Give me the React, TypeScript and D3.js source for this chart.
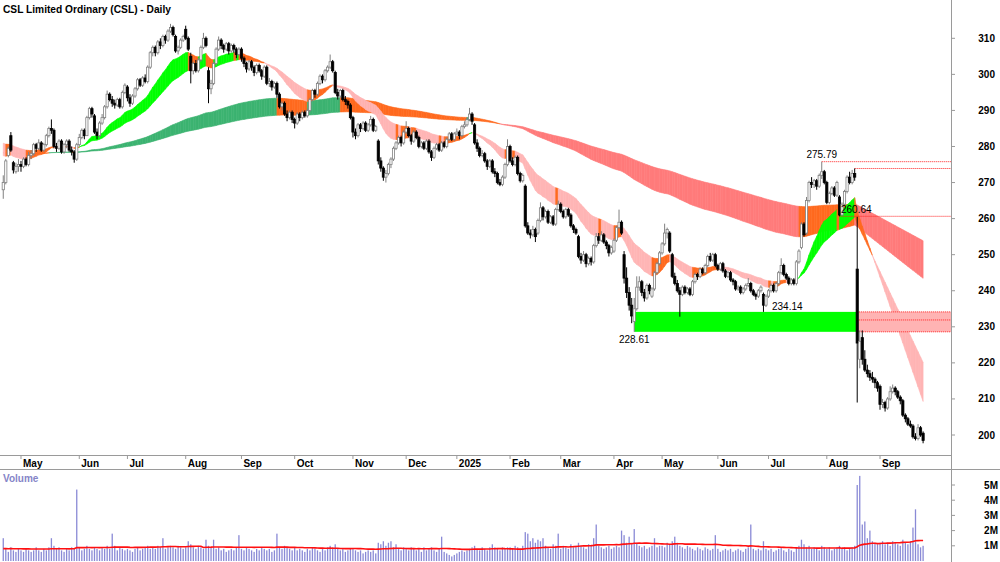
import React from 'react';
import * as d3 from 'd3';

const title = 'CSL Limited Ordinary (CSL) - Daily';
const firstDay = new Date(2024, 3, 19);
const lastDay = new Date(2025, 8, 24);
const holidays = ['2024-04-25', '2024-06-10', '2024-12-25', '2024-12-26', '2025-01-01', '2025-01-27', '2025-04-18', '2025-04-21', '2025-04-25', '2025-06-09'];

// Daily OHLC (one row per month)
const opens = [
  268, 270, 277.5, 283, 275.5, 273, 274.5,
  275, 274.5, 276.5, 275, 277.5, 278, 280.5, 279.5, 281, 279, 280.5, 283, 285, 284.5, 280, 279.5, 281.5, 278.5, 280.5, 281.5, 279, 278.5, 276.5,
  280.5, 282.5, 284.5, 283, 288, 290.5, 288.5, 284, 283, 286.5, 288, 291, 294.5, 293, 292, 291.5, 293, 291, 295,
  296.5, 293.5, 292, 294, 296, 298.5, 297, 299, 298, 302, 306, 307.5, 306, 309, 308, 310.5, 309.5, 312, 313, 310.5, 306.5, 307.5, 309.5,
  312.5, 310, 305, 301, 303, 301, 304, 307.5, 310, 301, 296, 297.5, 303, 307, 309.5, 308, 307, 308.5, 306.5, 308, 307, 305.5,
  307, 304.5, 303, 301.5, 303.5, 302, 300.5, 302.5, 301, 299.5, 302, 297.5, 298, 296.5, 297.5, 294.5, 291, 292, 289, 288, 289.5,
  287.5, 286.5, 289, 288, 289.5, 288.5, 290, 293, 295.5, 294.5, 297.5, 299.5, 298.5, 301, 302, 303.5, 300.5, 295, 294, 295.5, 293, 292.5, 291.5,
  288, 284, 283, 286, 285, 286.5, 284.5, 286, 287.5, 284.5, 281.5, 276, 274, 271.5, 272.5, 275, 276.5, 279.5, 281, 282.5, 281,
  284, 285, 283, 281.5, 284, 282.5, 280, 281, 279.5, 281.5, 278.5, 277, 279.5, 280.5, 279, 281, 280, 282, 283.5, 282,
  283.5, 284, 283, 285.5, 286, 287.5, 289, 286, 281, 279.5, 277.5, 278, 276, 274.5, 276, 273, 272.5, 270, 269.5, 271.5, 275,
  280, 276, 275, 277, 272.5, 270.5, 269, 258, 256, 255.5, 257, 256, 259.5, 263, 260.5, 262, 259, 260.5, 258.5, 262.5,
  264, 262, 260.5, 262.5, 261, 258, 257, 255, 249.5, 248.5, 250, 247.5, 249, 248, 252.5, 255, 254, 255.5, 253.5, 252.5, 250.5,
  251, 254, 257.5, 259, 250, 243.5, 239.5, 236, 231.5, 235, 241, 242.5, 239.5, 238, 241.5, 238.5, 240.5, 245, 247.5,
  250.5, 253, 256, 256, 250, 244, 242, 240, 239, 241, 239.5, 240.5, 239, 242.5, 244.5, 244, 246, 245, 247, 249.5, 248.5, 250,
  247, 246, 247.5, 245.5, 244, 245, 243, 242.5, 240.5, 241, 239.5, 240.5, 241.5, 242, 240, 239, 238.5, 240, 239, 236,
  238.5, 240, 241.5, 240, 242, 245, 247, 244.5, 243.5, 242, 243, 242, 248, 252, 258.5, 256, 265, 270, 269.5, 270.5, 269, 272, 273,
  270, 264.5, 267, 268.5, 266.5, 266, 261, 264, 267.5, 271.5, 270, 272.5, 246, 221, 227, 221, 218, 217, 216, 215.5, 214.5,
  213.5, 208.5, 209, 207.5, 210, 212, 213, 212, 210.5, 209.5, 205.5, 204.5, 203, 202.5, 199.5, 199, 202, 200.5,
];
const highs = [
  272, 276.5, 280, 284, 276, 275.5, 276.5,
  276, 277, 277, 278.5, 279, 281, 281, 282, 281.5, 281, 283.5, 285.5, 287.5, 285, 281, 282, 282, 281, 282, 282, 280, 279, 281,
  283.5, 285, 285, 288.5, 291, 291, 289, 285, 287, 289, 291.5, 295.5, 295, 294, 293, 293.5, 293.5, 295.5, 297.5,
  297, 294.5, 294.5, 296.5, 299, 299, 299.5, 300, 302.5, 306.5, 308, 308, 309.5, 310, 311, 311, 312.5, 314, 313.5, 311, 308, 310, 311,
  313.5, 310.5, 306, 303.5, 304, 304.5, 308, 311.5, 310.5, 302, 298.5, 303.5, 307.5, 310.5, 310, 308.5, 309, 309, 308.5, 308.5, 307.5, 307.5,
  307.5, 305, 303.5, 304, 304, 302.5, 303, 303, 301.5, 302.5, 302.5, 299, 298.5, 298, 298, 295, 292.5, 292.5, 290, 290, 290,
  288, 289.5, 289.5, 290, 290, 290.5, 293.5, 296, 296, 298, 300, 300, 301.5, 302.5, 305.5, 304, 301, 296, 296, 296, 294, 293, 292,
  288.5, 285, 286.5, 286.5, 287, 287, 286.5, 288.5, 288, 286, 282, 277, 274.5, 273.5, 275.5, 277, 280, 281.5, 283, 283, 284.5,
  287, 285.5, 283.5, 284.5, 284.5, 283, 281.5, 281.5, 282, 282, 279, 280, 281, 281, 281.5, 281.5, 282.5, 284, 284, 284,
  285, 284.5, 286, 287, 288, 290.7, 289.5, 286.5, 282, 280, 279, 278.5, 276.5, 276.5, 276.5, 274, 273, 271, 272, 275.5, 282,
  280.5, 277, 277.5, 277.5, 273, 272.5, 269.5, 259, 257, 258, 257.5, 260, 264.5, 263.5, 262.5, 262.5, 261, 261, 263, 265,
  264.5, 262.5, 263, 263, 261.5, 258.5, 257.5, 255.5, 250.5, 251, 250.5, 249.5, 249.5, 253, 256, 256, 256.5, 256, 254, 253, 252.5,
  254.5, 258, 262.5, 259.5, 251, 246.5, 241, 238, 238, 244, 244, 243, 240.5, 242, 242, 241, 245.5, 248, 251,
  253.5, 258.6, 257.5, 256.5, 250.5, 245, 243, 241, 241.5, 241.5, 241, 241, 243, 245, 245, 246.5, 246.5, 247.5, 250, 250.5, 250.5, 250.5,
  247.5, 248, 248, 246, 245.5, 245.5, 243.5, 243, 241.5, 241.5, 241, 242, 243.5, 242.5, 240.5, 239.5, 240.5, 241.5, 239.5, 239,
  240.5, 242, 242, 242.5, 245.5, 249, 247.5, 245, 244, 243.5, 243.5, 248.5, 251.5, 259, 259, 266, 270.5, 271.5, 271, 271, 272.5, 275.79, 273.5,
  270.5, 267.5, 269, 269, 270.5, 266.5, 264.5, 268, 272, 273, 273.5, 273.9, 260.5, 229, 229, 223.5, 219.5, 218, 217.5, 216, 215,
  214, 210, 209.5, 210.5, 213.5, 214, 213.5, 212.5, 211, 210, 206, 205, 204, 203, 200.5, 203, 202.5, 201,
];
const lows = [
  265.5, 269.5, 277, 278.5, 272.5, 272.5, 273,
  273, 274, 274.5, 274.5, 276.5, 277.5, 278.5, 279, 278.5, 278.5, 280, 282.5, 283.5, 279.5, 278.5, 279, 278, 278, 279.5, 278.5, 277.5, 275.5, 276,
  280, 282, 282, 283, 287.5, 288, 283.5, 282, 282.5, 286, 287.5, 290.5, 292.5, 291, 290.5, 291, 290.5, 290.5, 294.5,
  292.5, 291, 291.5, 293.5, 295.5, 296.5, 296.5, 297.5, 297.5, 301.5, 305, 305, 305.5, 307, 307.5, 308.5, 309, 311.5, 310.5, 306, 305.5, 307, 309,
  309.5, 306.5, 297.5, 300, 300.5, 300.5, 303.5, 307, 307.5, 292, 294.5, 297, 302.5, 306.5, 307, 306, 306.5, 305.5, 306, 306, 304.5, 305,
  303.5, 302, 300.5, 301, 301, 299.5, 300, 300.5, 298.5, 299, 297, 296.5, 295.5, 296, 293.5, 290.5, 290, 288.5, 287, 287.5, 286.5,
  285, 286, 287, 287.5, 288, 288, 289.5, 292.5, 293.5, 294, 297, 297.5, 298, 300.5, 301.5, 300.5, 294.5, 293, 293.5, 292.5, 291.5, 290.5, 287.5,
  282.5, 282, 282.5, 284, 284.5, 284, 284, 285.5, 284, 284, 275, 273, 270.5, 270, 272, 274, 276, 279, 280.5, 280, 280.5,
  283.5, 282.5, 280.5, 281, 282, 279.5, 279.5, 279, 279, 278, 276, 276.5, 279, 278.5, 278.5, 279.5, 279.5, 281.5, 281.5, 281.5,
  283, 282, 282.5, 285, 285.5, 287, 286, 280.5, 278.5, 277, 277, 275.5, 273.5, 274, 272.5, 271.5, 269.5, 269, 269, 271, 274.5,
  275.5, 274.5, 274.5, 272, 270, 270, 257.5, 255.5, 254.5, 255, 253.5, 255.5, 259, 259.5, 260, 258.5, 258.5, 258, 258, 262,
  261.5, 260, 260, 260.5, 257.5, 256, 255.5, 249, 247.5, 248, 246.5, 247, 247, 247.5, 252, 253, 253.5, 253, 251.5, 249.5, 250,
  250.5, 253.5, 257, 255.5, 242, 238, 234.5, 231, 228.61, 234.5, 240, 238.5, 237, 237.5, 239, 238, 240, 244.5, 247,
  250, 252.5, 254.5, 250.5, 243.5, 241.5, 239.5, 232.8, 238.5, 239, 239, 238.5, 238.5, 242, 243, 243.5, 244.5, 244.5, 246.5, 248, 248, 246.5,
  245.5, 245.5, 245, 243.5, 243.5, 242.5, 241.5, 240, 240, 239, 239, 240, 241, 239.5, 238.5, 237.5, 238, 239.5, 234.14, 235.5,
  238, 239.5, 239.5, 239.5, 241.5, 244.5, 244, 243, 241.5, 241.5, 241.5, 241.5, 247.5, 251.5, 255, 255.5, 264.5, 268.5, 268.5, 268, 268.5, 271, 269.5,
  264, 264, 266.5, 266, 266, 260.64, 260.8, 263.5, 267, 269.5, 269.5, 270.5, 209, 218.5, 219.5, 217.5, 216, 215, 214.5, 213, 212,
  207, 207.5, 206.5, 207, 209.5, 211.5, 211, 210, 208.5, 205, 203.5, 202.5, 202, 199, 198.5, 198.5, 199.5, 197.7,
];
const closes = [
  270, 276, 279.5, 279, 273.5, 274.5, 275,
  274.5, 276.5, 275, 277.5, 278, 280.5, 279.5, 281, 279, 280.5, 283, 285, 284.5, 280, 279.5, 281.5, 278.5, 280.5, 281.5, 279, 278.5, 276.5, 280.5,
  282.5, 284.5, 283, 288, 290.5, 289, 284, 283, 286.5, 288, 291, 294.5, 293, 292, 291.5, 293, 291, 295, 297,
  293.5, 292, 294, 296, 298.5, 297, 299, 298, 302, 306, 307.5, 306, 309, 308, 310.5, 309.5, 312, 313, 311, 306.5, 307.5, 309.5, 310.5,
  310, 307, 301, 303, 301, 304, 307.5, 310, 308, 296, 297.5, 303, 307, 309.5, 308, 307, 308.5, 306.5, 308, 307, 305.5, 307,
  304.5, 303, 301.5, 303.5, 302, 300.5, 302.5, 301, 299.5, 302, 297.5, 298, 296.5, 297.5, 294.5, 291, 292, 289, 288, 289.5, 287.5,
  286.5, 289, 288, 289.5, 288.5, 290, 293, 295.5, 294.5, 297.5, 299.5, 298.5, 301, 302, 303.5, 301, 295, 294, 295.5, 293, 292.5, 291.5, 288,
  284, 283, 286, 285, 286.5, 284.5, 286, 287.5, 284.5, 285.5, 276, 274, 271.5, 272.5, 275, 276.5, 279.5, 281, 282.5, 281, 284,
  285, 283, 281.5, 284, 282.5, 280, 281, 279.5, 281.5, 278.5, 277, 279.5, 280.5, 279, 281, 280, 282, 283.5, 282, 283.5,
  284, 283, 285.5, 286, 287.5, 289, 287, 281, 279.5, 277.5, 278, 276, 274.5, 276, 273, 272.5, 270, 269.5, 271.5, 275, 280,
  276, 275, 277, 272.5, 270.5, 272, 258, 256, 255.5, 257, 255, 259.5, 263, 260.5, 262, 259, 260.5, 258.5, 262.5, 264,
  262, 260.5, 262.5, 261, 258, 257, 256, 249.5, 248.5, 250, 247.5, 249, 248, 252.5, 255, 254, 255.5, 253.5, 252.5, 250.5, 252,
  254, 257.5, 259, 256, 243.5, 239.5, 236, 233, 235, 241, 242.5, 239.5, 238, 241.5, 240, 240.5, 245, 247.5, 250.5,
  253, 256, 257, 251, 244, 242, 240, 239, 241, 239.5, 240.5, 239, 242.5, 244.5, 244, 246, 245, 247, 249.5, 248.5, 250, 247,
  246, 247.5, 245.5, 244, 245, 243, 242.5, 240.5, 241, 239.5, 240.5, 241.5, 242, 240, 239, 238.5, 240, 241, 236, 238.5,
  240, 241.5, 240, 242, 245, 247, 244.5, 243.5, 242, 243, 242, 248, 251, 258.5, 255.5, 265, 270, 269.5, 270.5, 269, 272, 273, 270,
  264.5, 267, 268.5, 266.5, 270, 261, 264, 267.5, 271.5, 270, 272.5, 271.5, 225.5, 226, 221, 218, 217, 216, 215.5, 214.5, 213,
  208.5, 209, 207.5, 210, 212, 213, 212, 210.5, 209.5, 205.5, 204.5, 203, 202.5, 199.5, 199, 202, 200, 198.5,
];
// Volume in millions
const volumes = [
  1.5, 0.8, 0.6, 0.9, 0.7, 0.6, 0.8,
  0.7, 0.6, 0.8, 0.7, 0.6, 0.7, 0.9, 0.7, 0.6, 0.8, 0.7, 0.9, 1.5, 1.0, 0.8, 0.9, 0.7, 0.6, 0.8, 0.7, 0.9, 0.8, 4.7,
  0.9, 0.7, 0.8, 1.0, 0.8, 0.7, 0.9, 0.8, 0.7, 0.9, 0.8, 1.0, 0.8, 1.8, 1.0, 0.7, 0.9, 0.8, 0.7,
  0.8, 0.7, 0.6, 0.8, 0.9, 0.7, 0.8, 0.9, 1.0, 0.8, 0.9, 0.8, 1.0, 0.9, 1.5, 0.8, 0.9, 1.0, 0.9, 0.8, 1.0, 0.9, 0.8,
  0.9, 1.3, 1.1, 0.9, 0.8, 1.0, 0.9, 0.8, 1.4, 1.0, 0.9, 1.4, 0.8, 0.9, 0.7, 0.8, 0.6, 0.7, 0.8, 0.7, 0.9, 1.7,
  0.8, 0.7, 0.9, 0.8, 0.7, 0.6, 0.8, 0.7, 0.9, 0.8, 0.7, 0.8, 0.6, 0.7, 1.8, 0.9, 0.8, 1.0, 0.9, 0.8, 0.7,
  0.9, 0.7, 0.8, 0.7, 0.6, 0.8, 0.7, 0.9, 0.8, 0.7, 0.6, 0.8, 0.7, 0.9, 1.0, 0.9, 1.1, 0.8, 0.7, 0.8, 0.6, 0.7, 0.8,
  0.8, 0.7, 0.6, 0.7, 0.5, 0.6, 0.7, 0.6, 0.7, 0.5, 1.2, 1.1, 1.3, 1.0, 1.2, 1.3, 0.9, 1.1, 0.8, 0.7, 0.9,
  0.8, 0.7, 0.9, 0.8, 0.7, 0.8, 0.6, 0.9, 0.7, 0.8, 0.9, 0.7, 0.6, 0.8, 1.6, 0.6, 0.5, 0.4, 0.3, 0.4,
  0.5, 0.6, 0.7, 0.6, 0.7, 0.8, 0.9, 1.0, 0.8, 0.7, 0.9, 0.8, 0.7, 0.9, 1.1, 0.9, 0.8, 0.7, 0.9, 0.8, 0.9,
  0.9, 0.8, 1.0, 0.9, 0.8, 1.0, 1.9, 1.8, 1.3, 1.5, 1.2, 1.4, 1.3, 1.5, 1.0, 0.9, 0.8, 1.1, 1.0, 1.8,
  0.8, 1.0, 0.9, 0.8, 1.1, 0.9, 1.0, 1.2, 1.0, 0.9, 0.8, 1.1, 1.0, 1.5, 2.4, 1.0, 0.9, 0.8, 0.9, 1.0, 0.8,
  0.9, 1.0, 0.9, 2.0, 1.7, 1.2, 1.6, 1.1, 2.1, 1.2, 1.0, 0.9, 1.0, 0.8, 0.9, 1.0, 1.5, 0.9, 1.0,
  1.0, 0.9, 1.2, 1.1, 1.3, 1.6, 1.2, 1.0, 0.9, 0.8, 1.0, 0.9, 0.8, 0.7, 0.9, 0.8, 0.7, 0.9, 0.8, 0.7, 0.8, 1.7,
  0.8, 0.6, 0.7, 0.8, 0.7, 0.8, 0.6, 0.7, 0.8, 0.7, 0.6, 0.8, 0.9, 2.4, 0.8, 0.7, 0.8, 0.7, 1.3, 0.8,
  0.7, 0.8, 0.6, 0.7, 0.8, 0.9, 0.7, 0.6, 0.8, 0.7, 0.6, 0.9, 1.0, 1.4, 1.1, 0.9, 1.0, 0.8, 0.9, 0.8, 0.7, 1.0, 0.9,
  0.8, 0.9, 0.7, 0.8, 0.9, 1.0, 0.8, 0.9, 0.7, 0.8, 0.9, 1.0, 5.0, 5.6, 2.4, 2.6, 1.5, 2.0, 1.3, 1.2, 1.1,
  1.2, 1.3, 1.1, 1.2, 1.0, 1.3, 1.2, 1.1, 1.0, 1.4, 1.2, 1.1, 1.3, 2.2, 3.4, 1.1, 0.9, 1.0,
];

const priceTicks = [200, 210, 220, 230, 240, 250, 260, 270, 280, 290, 300, 310];
const volumeTicks = [1, 2, 3, 4, 5];

const shortPeriods = [20, 38];
const shortSeeds = [278.2, 281.5];
const longPeriods = [150, 260];
const longSeeds = [278.3, 278.3];
const ribbonBreakDate = '2025-08-19';
const volumePeriod = 50;
const volumeSeed = 0.8;

// Annotations
const levelDates = ['2025-07-30', '2025-08-18', '2025-08-08'];
const levelValues = [275.79, 273.9, 260.64];
const zoneDates = ['2025-04-11', '2025-08-19'];
const zoneValues = [228.61, 234.14];
const zoneMid = 231.9;
const lowLabelDate = '2025-06-27';

const fmt = d3.timeFormat('%Y-%m-%d');
const days: Date[] = [];
for (let d = new Date(firstDay); d <= lastDay; d.setDate(d.getDate() + 1)) {
  const wd = d.getDay();
  if (wd === 0 || wd === 6) continue;
  if (holidays.includes(fmt(d))) continue;
  days.push(new Date(d));
}

function ema(vals: number[], period: number, seed: number) {
  const a = 2 / (period + 1);
  let e = seed;
  return vals.map((v) => (e = e + a * (v - e)));
}

export default function App() {
  const n = Math.min(days.length, opens.length, highs.length, lows.length, closes.length, volumes.length);
  const idx = (s: string) => days.findIndex((d) => fmt(d) === s);
  const x = d3.scaleLinear().domain([0, n - 1]).range([3.26, 923.1]);
  const y = d3.scaleLinear().domain([200, 310]).range([435, 38.3]);
  const yv = d3.scaleLinear().domain([0, 5]).range([561, 485]);
  const cl = closes.slice(0, n);
  const brk = idx(ribbonBreakDate);
  const straighten = (arr: number[]) =>
    arr.map((v, i) => (i <= brk ? v : arr[brk] + ((arr[n - 1] - arr[brk]) * (i - brk)) / (n - 1 - brk)));

  const sFast = straighten(ema(cl, shortPeriods[0], shortSeeds[0]));
  const sSlow = straighten(ema(cl, shortPeriods[1], shortSeeds[1]));
  const lFast = straighten(ema(cl, longPeriods[0], longSeeds[0]));
  const lSlow = straighten(ema(cl, longPeriods[1], longSeeds[1]));

  // colour: fast above slow & rising -> bull, fast below slow & falling -> bear, else mixed
  const band = (f: number[], s: number[], cols: string[], key: string) => {
    const out: React.ReactNode[] = [];
    for (let i = 1; i < n; i++) {
      const df = f[i] - f[i - 1];
      const above = f[i] >= s[i];
      const c = above ? (df > 0 ? cols[0] : cols[1]) : df < 0 ? cols[2] : cols[1];
      const p = d3.path();
      p.moveTo(x(i - 1), y(f[i - 1]));
      p.lineTo(x(i), y(f[i]));
      p.lineTo(x(i), y(s[i]));
      p.lineTo(x(i - 1), y(s[i - 1]));
      p.closePath();
      out.push(<path key={key + i} d={p.toString()} fill={c} stroke={c} strokeWidth={0.6} />);
    }
    return out;
  };

  const volMA = volumes.slice(0, n).map((_, i) => {
    let s = 0;
    for (let k = i - volumePeriod + 1; k <= i; k++) s += k >= 0 ? volumes[k] : volumeSeed;
    return s / volumePeriod;
  });
  const volLine = d3.line<number>().x((_, i) => x(i)).y((v) => yv(v))(volMA) || '';

  const monthTicks: { i: number; label: string }[] = [];
  for (let i = 1; i < n; i++) {
    if (days[i].getMonth() !== days[i - 1].getMonth()) {
      monthTicks.push({ i, label: days[i].getMonth() === 0 ? String(days[i].getFullYear()) : d3.timeFormat('%b')(days[i]) });
    }
  }

  const axisX = 951.5;
  const font = 'Liberation Sans, Arial, Helvetica, sans-serif';
  const z0 = idx(zoneDates[0]);
  const z1 = idx(zoneDates[1]);

  return (
    <svg width={1000} height={562} style={{ position: 'fixed', left: 0, top: 0, background: '#fff' }} fontFamily={font}>
      <rect x={0} y={0} width={1000} height={562} fill="#fff" />
      <text x={3} y={12.5} fontSize={10.2} fontWeight="bold" fill="#000">{title}</text>

      {band(lFast, lSlow, ['#3CB371', '#FF6A1F', '#FF7B7B'], 'l')}
      {band(sFast, sSlow, ['#00FF00', '#FF6A1F', '#FFB5B5'], 's')}

      {/* support zone */}
      <rect x={x(z0)} y={y(zoneValues[1])} width={x(z1) - x(z0)} height={y(zoneValues[0]) - y(zoneValues[1])} fill="#00FF00" />
      <rect x={x(z1)} y={y(zoneValues[1])} width={axisX - x(z1)} height={y(zoneValues[0]) - y(zoneValues[1])} fill="#FFB3B3" />
      {[zoneValues[1], zoneMid, zoneValues[0]].map((v, k) => (
        <line key={'zl' + k} x1={x(z1)} x2={axisX} y1={y(v)} y2={y(v)} stroke="#FF2020" strokeWidth={1} strokeDasharray="1,1" />
      ))}
      {levelDates.map((d, k) => (
        <line key={'lv' + k} x1={x(idx(d))} x2={axisX} y1={y(levelValues[k])} y2={y(levelValues[k])} stroke="#FF2020" strokeWidth={1} strokeDasharray="1,1" />
      ))}

      {/* candles */}
      {d3.range(n).map((i) => {
        const o = opens[i], h = highs[i], l = lows[i], c = closes[i];
        const up = c >= o;
        const cx = x(i);
        const col = up ? '#808080' : '#000';
        const top = y(Math.max(o, c));
        const bh = Math.max(0.8, y(Math.min(o, c)) - top);
        return (
          <g key={'c' + i}>
            <line x1={cx} x2={cx} y1={y(h)} y2={y(l)} stroke={col} strokeWidth={1} />
            <rect x={cx - 1.1} y={top} width={2.2} height={bh} fill={up ? '#fff' : '#000'} stroke={col} strokeWidth={0.8} />
          </g>
        );
      })}

      {/* annotation labels */}
      <text x={x(idx(levelDates[0]))} y={y(levelValues[0]) - 4} fontSize={10} textAnchor="middle" fill="#000">{levelValues[0].toFixed(2)}</text>
      <text x={x(idx(levelDates[2])) + 1.5} y={y(levelValues[2]) - 3} fontSize={10} fill="#000">{levelValues[2].toFixed(2)}</text>
      <text x={x(idx(lowLabelDate)) + 8.5} y={y(zoneValues[1]) - 2} fontSize={10} fill="#000">{zoneValues[1].toFixed(2)}</text>
      <text x={x(z0)} y={y(zoneValues[0]) + 11} fontSize={10} textAnchor="middle" fill="#000">{zoneValues[0].toFixed(2)}</text>

      {/* right price axis */}
      <line x1={axisX} x2={axisX} y1={0} y2={562} stroke="#9a9a9a" strokeWidth={1} />
      {priceTicks.map((t) => (
        <g key={'pt' + t}>
          <line x1={axisX} x2={axisX + 3.5} y1={y(t)} y2={y(t)} stroke="#9a9a9a" />
          <text x={995} y={y(t) + 3.5} fontSize={10} fontWeight="bold" textAnchor="end" fill="#000">{t}</text>
        </g>
      ))}

      {/* month strip */}
      <line x1={0} x2={axisX} y1={455.5} y2={455.5} stroke="#9a9a9a" />
      <line x1={0} x2={1000} y1={469.5} y2={469.5} stroke="#9a9a9a" />
      {monthTicks.map((m) => (
        <g key={'m' + m.i}>
          <line x1={x(m.i)} x2={x(m.i)} y1={455.5} y2={459} stroke="#9a9a9a" />
          <text x={x(m.i) + 2} y={466.5} fontSize={10} fontWeight="bold" fill="#000">{m.label}</text>
        </g>
      ))}

      {/* volume */}
      <text x={3} y={482} fontSize={10} fontWeight="bold" fill="#8585C8">Volume</text>
      {d3.range(n).map((i) => (
        <rect key={'v' + i} x={x(i) - 0.65} y={yv(volumes[i])} width={1.3} height={yv(0) - yv(volumes[i])} fill="#8A8AD6" />
      ))}
      <path d={volLine} fill="none" stroke="#FF1010" strokeWidth={1.6} />
      {volumeTicks.map((t) => (
        <g key={'vt' + t}>
          <line x1={axisX} x2={axisX + 3.5} y1={yv(t)} y2={yv(t)} stroke="#9a9a9a" />
          <text x={998} y={yv(t) + 3.5} fontSize={10} fontWeight="bold" textAnchor="end" fill="#000">{t}M</text>
        </g>
      ))}
    </svg>
  );
}
